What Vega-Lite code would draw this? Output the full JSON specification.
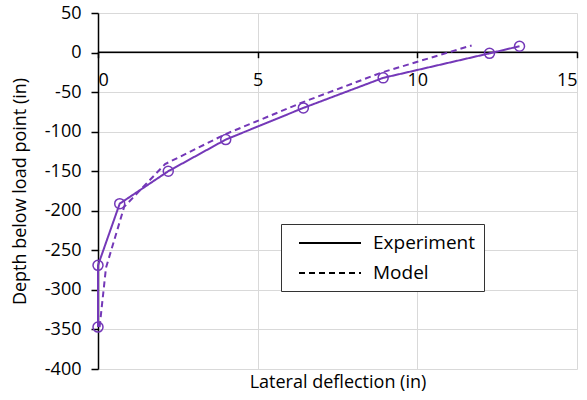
{
  "$schema": "https://vega.github.io/schema/vega-lite/v6.json",
  "autosize": "none",
  "width": 479,
  "height": 356,
  "padding": {"left": 98, "top": 13, "right": 10, "bottom": 31},
  "background": "white",
  "config": {
    "font": "Open Sans",
    "view": {"stroke": null},
    "axis": {
      "gridColor": "#d9d9d9",
      "gridWidth": 1,
      "domainColor": "black",
      "domainWidth": 1.5,
      "tickColor": "black",
      "tickWidth": 1.5,
      "labelColor": "black",
      "titleColor": "black",
      "labelFontSize": 18,
      "titleFontSize": 18,
      "titleFontWeight": "normal"
    }
  },
  "data": {
    "values": [
      {"series": "Experiment", "deflection": 0.0, "depth": -347},
      {"series": "Experiment", "deflection": 0.0, "depth": -269},
      {"series": "Experiment", "deflection": 0.68, "depth": -191},
      {"series": "Experiment", "deflection": 2.2, "depth": -150},
      {"series": "Experiment", "deflection": 4.0, "depth": -110},
      {"series": "Experiment", "deflection": 6.43, "depth": -70},
      {"series": "Experiment", "deflection": 8.93, "depth": -32},
      {"series": "Experiment", "deflection": 12.26, "depth": -1},
      {"series": "Experiment", "deflection": 13.2, "depth": 8},
      {"series": "Model", "deflection": 0.05, "depth": -347},
      {"series": "Model", "deflection": 0.25, "depth": -272},
      {"series": "Model", "deflection": 0.82, "depth": -195},
      {"series": "Model", "deflection": 2.1, "depth": -141},
      {"series": "Model", "deflection": 4.0, "depth": -103},
      {"series": "Model", "deflection": 6.4, "depth": -63},
      {"series": "Model", "deflection": 8.9, "depth": -25},
      {"series": "Model", "deflection": 11.7, "depth": 9}
    ]
  },
  "encoding": {
    "x": {
      "field": "deflection",
      "type": "quantitative",
      "scale": {"domain": [0, 15], "nice": false, "zero": false},
      "axis": {
        "orient": "bottom",
        "offset": -317.3,
        "values": [0, 5, 10, 15],
        "grid": true,
        "tickSize": 6,
        "labelPadding": 14,
        "title": "Lateral deflection (in)",
        "titleY": 336,
        "titleBaseline": "alphabetic"
      }
    },
    "y": {
      "field": "depth",
      "type": "quantitative",
      "scale": {"domain": [-400, 50], "nice": false, "zero": false},
      "axis": {
        "values": [-400, -350, -300, -250, -200, -150, -100, -50, 0, 50],
        "labelExpr": "replace(datum.label, '\u2212', '-')",
        "grid": true,
        "tickSize": 7,
        "labelPadding": 10,
        "titlePadding": 15,
        "title": "Depth below load point (in)"
      }
    }
  },
  "layer": [
    {
      "mark": {"type": "line", "color": "#7438B8", "strokeWidth": 2},
      "encoding": {
        "order": {"field": "depth", "type": "quantitative"},
        "strokeDash": {
          "field": "series",
          "type": "nominal",
          "scale": {"domain": ["Experiment", "Model"], "range": [[1, 0], [6, 4]]},
          "legend": {
            "title": null,
            "orient": "none",
            "legendX": 183,
            "legendY": 211,
            "fillColor": "white",
            "strokeColor": "#333333",
            "padding": 8,
            "symbolType": "M-0.1,0H6.1",
            "symbolSize": 400,
            "symbolStrokeColor": "black",
            "symbolStrokeWidth": 2,
            "labelOffset": 62,
            "labelFontSize": 19,
            "labelColor": "black",
            "labelExpr": "datum.label + '\u00a0\u00a0\u00a0'",
            "rowPadding": 9
          }
        }
      }
    },
    {
      "transform": [{"filter": "datum.series === 'Experiment'"}],
      "mark": {"type": "point", "shape": "circle", "filled": false, "color": "#7438B8", "size": 100, "strokeWidth": 1.5, "opacity": 1}
    }
  ]
}
